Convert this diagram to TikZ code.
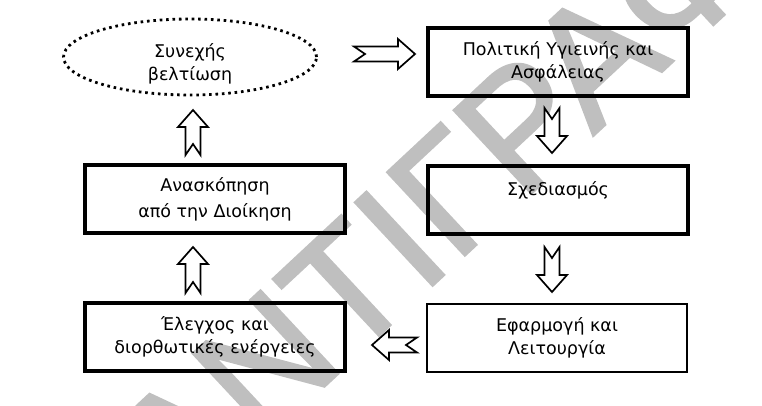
\documentclass[tikz,border=0pt]{standalone}
\usepackage{fontspec}
\setmainfont{DejaVu Sans}
\newfontfamily\stampfont[FakeBold=1.6]{Liberation Sans}
\usetikzlibrary{shapes.geometric,calc}

\newcommand{\fatarrow}[2]{%
    \draw[fatline] ($(#1)!7.5pt!90:(#2)$) -- ($(#2)!17pt!(#1)!7.5pt!-90:(#1)$)
        -- ($(#2)!17pt!(#1)!15pt!-90:(#1)$) -- (#2)
        -- ($(#2)!17pt!(#1)!15pt!90:(#1)$) -- ($(#2)!17pt!(#1)!7.5pt!90:(#1)$)
        -- ($(#1)!7.5pt!-90:(#2)$) -- ($(#1)!11pt!(#2)$) -- cycle;}

\begin{document}
\begin{tikzpicture}[x=1pt, y=-1pt]
        \tikzstyle{every node}=[align=center, inner sep=0pt, font=\fontsize{17.5}{23}\selectfont]
        \tikzstyle{stepbox}=[draw, line width=3.5pt, minimum width=260pt, minimum height=68pt]
        \tikzstyle{goal}=[ellipse, draw, line width=2.8pt, dash pattern=on 2.6pt off 3.8pt, minimum width=253pt, minimum height=76pt]
        \tikzstyle{fatline}=[draw, fill=white, line width=1.7pt, line join=miter]
        \tikzstyle{stamp}=[text=black!25, font=\stampfont\fontsize{165}{165}\selectfont]
        \useasboundingbox (0,0) rectangle (762,405);
        \begin{scope}
            \clip (0,0) rectangle (762,405);
            \node [stamp, rotate=43, anchor=base west] (wm) at (180,521) {ΑΝΤΙΓΡΑΦΟ};
        \end{scope}
        \node [goal] (improve) at (190,57) {};
        \node (improvetext) at (190,64) {Συνεχής\\βελτίωση};
        \node [stepbox] (policy) at (558,62) {Πολιτική Υγιεινής και\\Ασφάλειας};
        \node [stepbox] (plan) at (558,200) {Σχεδιασμός\\~};
        \node [stepbox, line width=2.8pt] (operate) at (557,338) {Εφαρμογή και\\Λειτουργία};
        \node [stepbox] (check) at (215,337) {Έλεγχος και\\διορθωτικές ενέργειες};
        \node [stepbox, font=\fontsize{17.5}{26}\selectfont] (review) at (215,199) {Ανασκόπηση\\από την Διοίκηση};
        \coordinate (t1) at (354,54); \coordinate (h1) at (415,54);
        \coordinate (t2) at (552,108); \coordinate (h2) at (552,153);
        \coordinate (t3) at (552,247); \coordinate (h3) at (552,292);
        \coordinate (t4) at (417,345); \coordinate (h4) at (372,345);
        \coordinate (t5) at (193,293); \coordinate (h5) at (193,247);
        \coordinate (t6) at (193,155); \coordinate (h6) at (193,110);
        \fatarrow{t1}{h1} \fatarrow{t2}{h2} \fatarrow{t3}{h3}
        \fatarrow{t4}{h4} \fatarrow{t5}{h5} \fatarrow{t6}{h6}
    \end{tikzpicture}
\end{document}
